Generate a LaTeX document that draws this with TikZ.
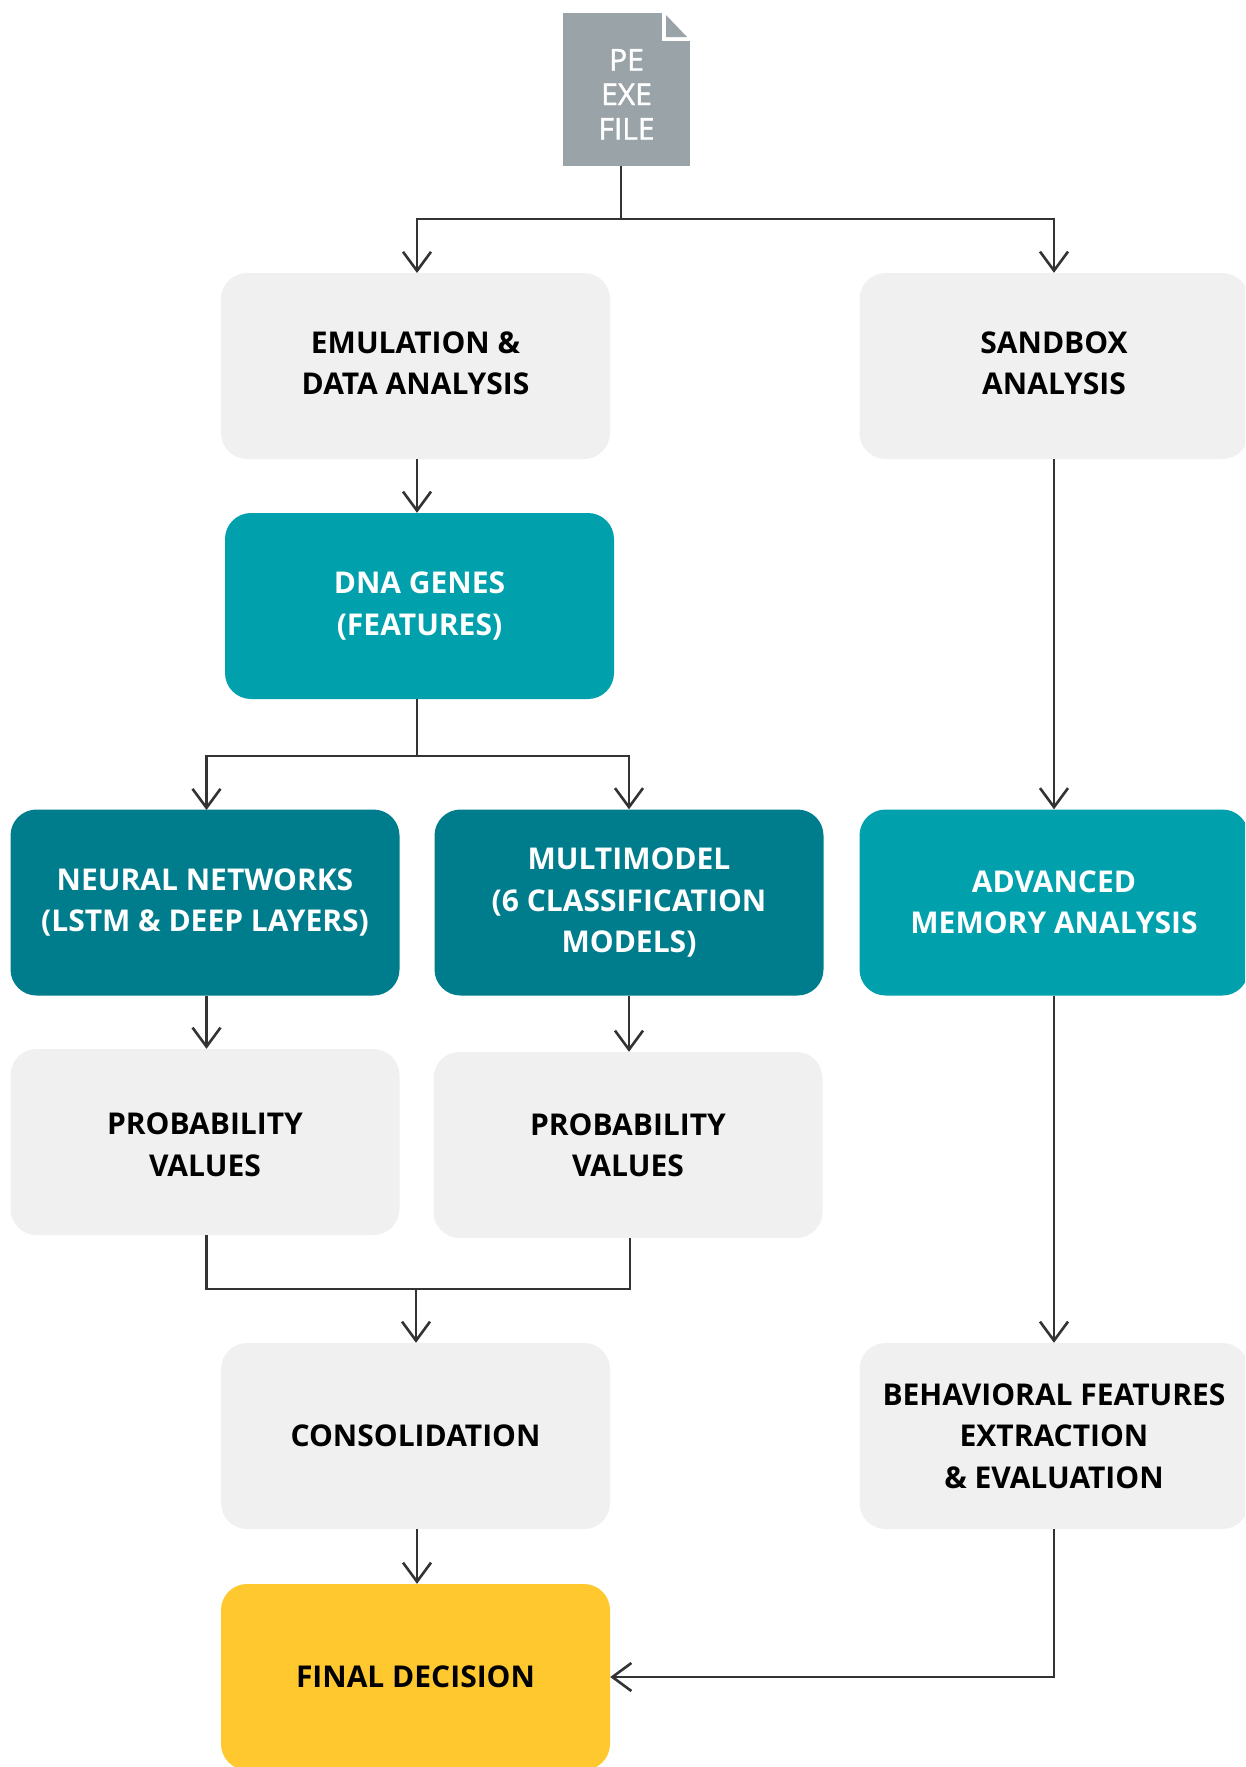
\documentclass[tikz,border=0pt]{standalone}
\usepackage{fontspec}
\setmainfont{Open Sans}
\usetikzlibrary{arrows.meta}
\definecolor{boxgray}{HTML}{F0F0F0}
\definecolor{tealbox}{HTML}{00A0AD}
\definecolor{darkteal}{HTML}{007D8C}
\definecolor{finalyellow}{HTML}{FFC82E}
\definecolor{filegray}{HTML}{9AA3A8}
\definecolor{linegray}{HTML}{333333}
% struts that nudge a label off the centre of its box
\newcommand{\pushdown}[1]{\rule{0pt}{#1}}
\newcommand{\pushup}[1]{\rule[-#1]{0pt}{0pt}}

\begin{document}
\begin{tikzpicture}
[x=1pt, y=-1pt,
>={Straight Barb[length=19pt, width=28pt, line width=2.6pt]},
every node/.style={align=center, inner sep=0pt},
flowbox/.style={rounded corners=26pt, minimum width=389pt, minimum height=186pt,
  font=\fontsize{30}{41.3}\selectfont\bfseries},
graybox/.style={flowbox, fill=boxgray, text=black},
tealnode/.style={flowbox, fill=tealbox, text=white},
darknode/.style={flowbox, fill=darkteal, text=white},
finalbox/.style={flowbox, fill=finalyellow, text=black},
filebox/.style={fill=filegray, text=white, minimum width=127pt, minimum height=153pt,
  font=\fontsize{30}{34.5}\selectfont\addfontfeature{FakeBold=1.5}},
link/.style={draw=linegray, line width=2.6pt}]

\useasboundingbox (0,0) rectangle (1245,1767);
\clip (0,0) rectangle (1245,1767);

\node[filebox] (pefile) at (626.5,89.5) {\pushdown{31pt}PE\\EXE\\FILE};
\fill[white] (662,11) -- (692,11) -- (692,41) -- (662,41) -- cycle;
\fill[filegray] (666,15) -- (687,37) -- (666,37) -- cycle;

\node[graybox] (emulation) at (415.5,366) {EMULATION \&\\DATA ANALYSIS\pushup{6pt}};
\node[graybox] (sandbox) at (1054,366) {SANDBOX\\ANALYSIS\pushup{6pt}};
\node[tealnode] (dna) at (419.5,606) {DNA GENES\\(FEATURES)};
\node[darknode] (neural) at (205,902.5) {NEURAL NETWORKS\\(LSTM \& DEEP LAYERS)};
\node[darknode] (multi) at (629,902.5) {MULTIMODEL\\(6 CLASSIFICATION\\MODELS)};
\node[tealnode] (memory) at (1054,902.5) {ADVANCED\\MEMORY ANALYSIS};
\node[graybox] (probleft) at (205,1142) {\pushdown{27pt}PROBABILITY\\VALUES};
\node[graybox] (probright) at (628,1145) {PROBABILITY\\VALUES};
\node[graybox] (consol) at (415.5,1436) {CONSOLIDATION};
\node[graybox] (behavior) at (1054,1436) {BEHAVIORAL FEATURES\\EXTRACTION\\\& EVALUATION};
\node[finalbox] (final) at (415.5,1677) {FINAL DECISION};

\coordinate (filesplit) at (621,219);
\coordinate (dnasplit) at (417,756);
\coordinate (probjoin) at (416,1289);
\coordinate (emularrow) at (417,273);
\coordinate (neuralarrow) at (206.5,810);
\coordinate (probleftend) at (206.5,1235);
\coordinate (probrightend) at (630,1238);

\draw[link] (filesplit |- pefile.south) -- (filesplit);
\draw[link, ->] (filesplit) -| (emularrow);
\draw[link, ->] (filesplit) -| (sandbox.north);
\draw[link, ->] (emularrow |- emulation.south) -- (emularrow |- dna.north);
\draw[link] (dnasplit |- dna.south) -- (dnasplit);
\draw[link, ->] (dnasplit) -| (neuralarrow);
\draw[link, ->] (dnasplit) -| (multi.north);
\draw[link, ->] (neuralarrow |- neural.south) -- (neuralarrow |- probleft.north);
\draw[link, ->] (multi.south) -- (probright.north -| multi.south);
\draw[link] (probleftend) |- (probjoin);
\draw[link] (probrightend) |- (probjoin);
\draw[link, ->] (probjoin) -- (probjoin |- consol.north);
\draw[link, ->] (emularrow |- consol.south) -- (emularrow |- final.north);
\draw[link, ->] (sandbox.south) -- (memory.north);
\draw[link, ->] (memory.south) -- (behavior.north);
\draw[link, ->] (behavior.south) |- (final.east);
\end{tikzpicture}
\end{document}
